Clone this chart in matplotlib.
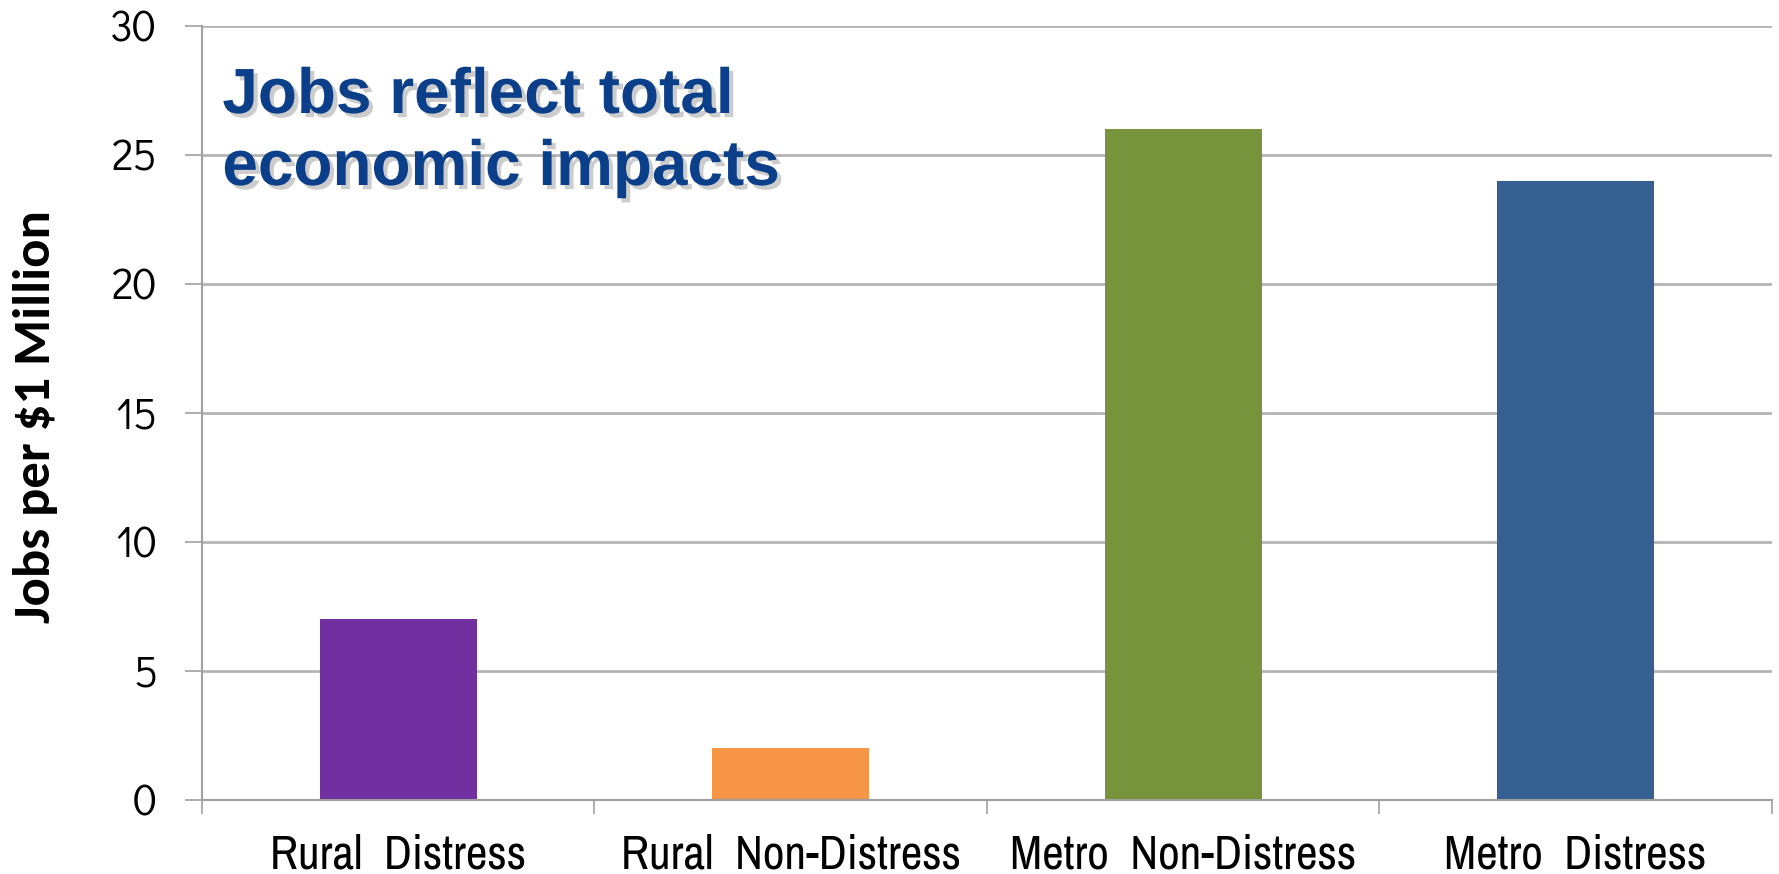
import matplotlib.pyplot as plt
import matplotlib.patheffects as pe
import numpy as np

# chart data
categories = ['Rural  Distress', 'Rural  Non-Distress', 'Metro  Non-Distress', 'Metro  Distress']
jobs = [7, 2, 26, 24]
colors = ['#7030A0', '#F79646', '#77933C', '#366092']
yticks = [0, 5, 10, 15, 20, 25, 30]

fig = plt.figure(figsize=(17.79, 8.74), dpi=100)
ax = fig.add_axes([0.1135, 0.0847, 0.8825, 0.8855])

x = np.arange(len(categories))
ax.bar(x, jobs, width=0.40, color=colors, zorder=3)

ax.set_xlim(-0.5, len(categories) - 0.5)
ax.set_ylim(0, 30)
ax.set_yticks(yticks)
ax.set_yticklabels([str(v) for v in yticks], fontsize=31, family=['Didact Gothic', 'Lato'])
ax.yaxis.grid(True, color='#B4B4B4', linewidth=2, zorder=0)
ax.tick_params(axis='y', length=12, width=1.2, color='#A0A0A0', pad=20, direction='out')

# category labels sit between boundary ticks
ax.set_xticks(x)
ax.set_xticklabels(categories, fontsize=34, family=['Archivo Narrow', 'DejaVu Sans'])
ax.tick_params(axis='x', which='major', length=0, pad=24)
ax.set_xticks(np.arange(-0.5, len(categories)), minor=True)
ax.tick_params(axis='x', which='minor', length=10, width=1.2, color='#A0A0A0', direction='out')

for side in ['top', 'right']:
    ax.spines[side].set_visible(False)
for side in ['left', 'bottom']:
    ax.spines[side].set_color('#A0A0A0')
    ax.spines[side].set_linewidth(1.5)
    ax.spines[side].set_zorder(4)

fig.text(0.020, 0.523, 'Jobs per $1 Million', rotation=90, ha='center', va='center',
         fontsize=38, fontweight='bold', family=['Carlito', 'DejaVu Sans'])

# callout with a soft drop shadow
shadow = [pe.SimplePatchShadow(offset=(3, -3), shadow_rgbFace='#808080', alpha=0.4), pe.Normal()]
for line, ybase in [('Jobs reflect total', 113), ('economic impacts', 185)]:
    fig.text(0.125, 1 - ybase / 874, line, fontsize=46, fontweight='bold',
             family='Liberation Sans', color='#0B3F8A', va='baseline', path_effects=shadow)

fig.savefig('out.png', dpi=100)
